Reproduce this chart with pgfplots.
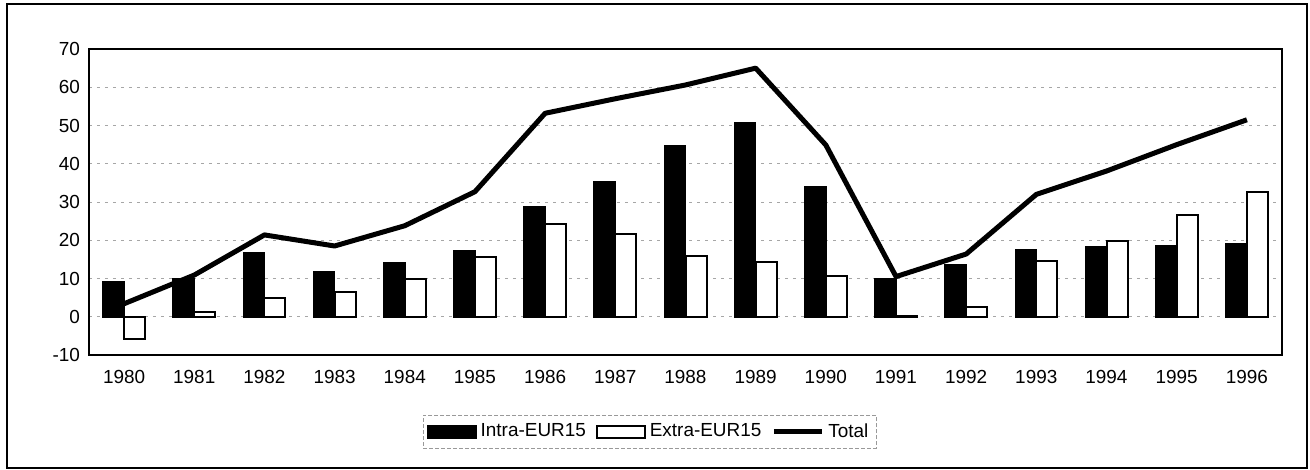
\documentclass[border=0pt]{standalone}
\usepackage{fontspec}
\setmainfont{Liberation Sans}
\usepackage{pgfplots}
\pgfplotsset{compat=1.18}

% values (Intra, Extra, Total)
\pgfplotsset{
  barleg/.style={legend image code/.code={\draw[##1] (0bp,-3bp) rectangle (24bp,3bp);}},
  lineleg/.style={legend image code/.code={\draw[##1] (0bp,0bp) -- (24bp,0bp);}},
}

\begin{document}
\begin{tikzpicture}
\useasboundingbox (-44.5bp,-57.5bp) rectangle (610.5bp,177.5bp);
\draw[line width=1.2bp] (-41bp,-56.5bp) rectangle (609bp,175.5bp);
\begin{axis}[
  scale only axis, width=596.5bp, height=153bp,
  xmin=1979.5, xmax=1996.5, ymin=-10, ymax=70,
  xtick={1980,...,1996}, ytick={-10,0,...,70},
  xticklabel style={/pgf/number format/1000 sep={}},
  /pgf/number format/assume math mode=true,
  tick label style={font=\fontsize{9.5}{11}\selectfont},
  tick style={draw=none},
  yticklabel style={xshift=-1bp},
  xticklabel style={yshift=-4bp},
  ymajorgrids, grid style={gray!70, line width=0.5bp, dash pattern=on 1.5bp off 2.5bp},
  axis line style={line width=0.7bp},
  legend columns=3,
  legend style={at={(axis description cs:0.47,-0.196)}, anchor=north,
    font=\fontsize{9.5}{11}\selectfont, draw=gray!80, line width=0.5bp,
    dash pattern=on 2bp off 1bp,
    /tikz/every even column/.append style={column sep=3bp},
    inner sep=2bp},
]
\addplot[barleg, ybar, bar width=0.3, bar shift=-0.15, fill=black, draw=black, line width=0.8bp]
  coordinates {(1980,9.2) (1981,9.8) (1982,16.6) (1983,11.8) (1984,14.0) (1985,17.3)
    (1986,28.7) (1987,35.2) (1988,44.7) (1989,50.6) (1990,33.9) (1991,10.0)
    (1992,13.7) (1993,17.5) (1994,18.3) (1995,18.6) (1996,19.0)};
\addlegendentry{Intra-EUR15}
\addplot[barleg, ybar, bar width=0.3, bar shift=0.15, fill=white, draw=black, line width=1bp]
  coordinates {(1980,-5.7) (1981,1.3) (1982,5.0) (1983,6.5) (1984,10.0) (1985,15.5)
    (1986,24.3) (1987,21.7) (1988,16.0) (1989,14.2) (1990,10.6) (1991,0.1)
    (1992,2.6) (1993,14.7) (1994,19.9) (1995,26.5) (1996,32.5)};
\addlegendentry{Extra-EUR15}
\addplot[lineleg, black, line width=2.5bp, line join=round, mark=none]
  coordinates {(1980,3.4) (1981,10.9) (1982,21.4) (1983,18.5) (1984,23.8) (1985,32.7)
    (1986,53.2) (1987,57.0) (1988,60.6) (1989,65.0) (1990,44.9) (1991,10.5)
    (1992,16.4) (1993,32.0) (1994,38.1) (1995,45.0) (1996,51.5)};
\addlegendentry{Total}
\end{axis}
\end{tikzpicture}
\end{document}
